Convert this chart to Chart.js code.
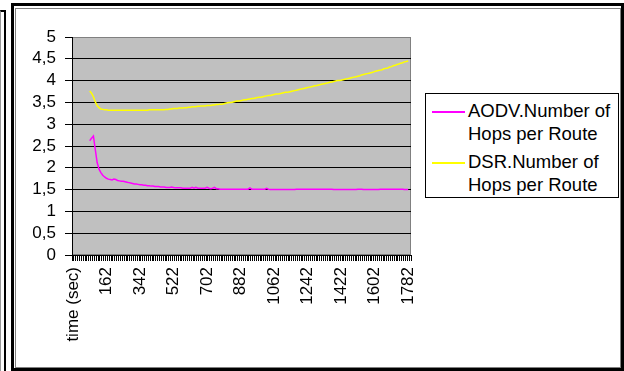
<!DOCTYPE html>
<html>
<head>
<meta charset="utf-8">
<script src="https://cdn.jsdelivr.net/npm/chart.js@4/dist/chart.umd.min.js"></script>
<style>
  html, body { margin: 0; padding: 0; background: #fff; }
  body { width: 624px; height: 371px; position: relative; overflow: hidden;
         font-family: 'Liberation Sans', Arial, sans-serif; }
  .strip { position: absolute; left: 0; top: 10px; width: 3px; height: 361px;
           border-left: 1px solid #999; border-right: 2px solid #000; border-top: 2px solid #000; }
  .frame { position: absolute; left: 11px; top: 3px; width: 613px; height: 368px;
           box-sizing: border-box; border: 3px solid #000; }
  .panel { position: absolute; left: 15px; top: 8px; width: 606px; height: 360px;
           box-sizing: border-box; border: 1px solid #808080; background: #fff; }
  canvas { position: absolute; left: 0; top: 0; }
  #legend { position: absolute; left: 425px; top: 93px; width: 194px; height: 105px;
            box-sizing: border-box; border: 1px solid #000; background: #fff;
            padding-top: 6px; }
  .entry { position: relative; height: 51px; }
  .entry .swatch { position: absolute; left: 6px; top: 11px; width: 33px; height: 2px; }
  .entry .text { position: absolute; left: 42px; top: 0; width: 150px;
                 font-size: 18.5px; line-height: 22.5px; color: #000; }
</style>
</head>
<body>
<div class="strip"></div>
<div class="frame"></div>
<div class="panel"></div>
<canvas id="chart" width="624" height="371"></canvas>
<div id="legend"></div>
<script>
// Category axis: header cell first, then the sampling times in seconds
const times = ['time (sec)', '0'];
for (let t = 2; t <= 1792; t += 10) times.push(String(t));

const tickLabels = ['time (sec)', '162', '342', '522', '702', '882', '1062', '1242', '1422', '1602', '1782'];

const seriesNames = ['AODV.Number of Hops per Route', 'DSR.Number of Hops per Route'];

// AODV average hop count per route (index 0..181)
const aodvHops = [
  null, null, null, null, null, null, null, null, null,
  2.62, 2.68, 2.73, 2.42, 2.12, 1.97, 1.89, 1.83, 1.79, 1.76, 1.74,
  1.73, 1.72, 1.74, 1.73, 1.71, 1.70, 1.69, 1.69, 1.68, 1.67,
  1.66, 1.65, 1.64, 1.63, 1.63, 1.62, 1.61, 1.61, 1.60, 1.60,
  1.59, 1.59, 1.58, 1.58, 1.57, 1.57, 1.57, 1.56, 1.56, 1.56,
  1.55, 1.55, 1.55, 1.56, 1.55, 1.54, 1.54, 1.54, 1.54, 1.53,
  1.53, 1.53, 1.53, 1.53, 1.55, 1.53, 1.55, 1.53, 1.53, 1.53,
  1.53, 1.53, 1.55, 1.53, 1.52, 1.53, 1.55, 1.52, 1.52, 1.51,
  1.51, 1.51, 1.51, 1.51, 1.51, 1.51, 1.51, 1.51, 1.51, 1.51,
  1.51, 1.51, 1.51, 1.51, 1.51, 1.54, 1.51, 1.51, 1.51, 1.51,
  1.51, 1.51, 1.51, 1.51, 1.53, 1.51, 1.50, 1.50, 1.50, 1.50,
  1.50, 1.50, 1.50, 1.50, 1.50, 1.50, 1.50, 1.50, 1.50, 1.50,
  1.51, 1.51, 1.51, 1.51, 1.51, 1.51, 1.51, 1.51, 1.51, 1.51,
  1.51, 1.51, 1.51, 1.51, 1.51, 1.51, 1.51, 1.51, 1.51, 1.51,
  1.50, 1.50, 1.50, 1.50, 1.50, 1.50, 1.50, 1.50, 1.50, 1.50,
  1.50, 1.50, 1.50, 1.51, 1.51, 1.51, 1.50, 1.50, 1.50, 1.50,
  1.50, 1.50, 1.50, 1.50, 1.50, 1.51, 1.51, 1.51, 1.51, 1.51,
  1.51, 1.51, 1.51, 1.51, 1.51, 1.51, 1.51, 1.51, 1.50, 1.50,
  1.50, null
];

// DSR average hop count per route (index 0..181)
const dsrHops = [
  null, null, null, null, null, null, null, null, null,
  3.76, 3.71, 3.63, 3.51, 3.43, 3.38, 3.35, 3.34, 3.33, 3.33, 3.32,
  3.32, 3.32, 3.32, 3.32, 3.32, 3.32, 3.32, 3.32, 3.32, 3.32,
  3.32, 3.32, 3.32, 3.32, 3.32, 3.32, 3.32, 3.32, 3.32, 3.32,
  3.32, 3.33, 3.33, 3.33, 3.33, 3.33, 3.33, 3.33, 3.33, 3.33,
  3.34, 3.34, 3.35, 3.35, 3.36, 3.36, 3.36, 3.37, 3.37, 3.37,
  3.38, 3.38, 3.39, 3.39, 3.40, 3.40, 3.40, 3.41, 3.41, 3.42,
  3.42, 3.42, 3.43, 3.43, 3.43, 3.44, 3.44, 3.45, 3.45, 3.46,
  3.46, 3.47, 3.48, 3.49, 3.50, 3.50, 3.51, 3.52, 3.53, 3.53,
  3.54, 3.55, 3.56, 3.56, 3.57, 3.58, 3.59, 3.59, 3.60, 3.61,
  3.62, 3.62, 3.63, 3.64, 3.65, 3.66, 3.66, 3.67, 3.68, 3.69,
  3.69, 3.70, 3.71, 3.72, 3.73, 3.73, 3.74, 3.75, 3.76, 3.77,
  3.78, 3.79, 3.80, 3.81, 3.82, 3.83, 3.84, 3.85, 3.86, 3.87,
  3.88, 3.89, 3.90, 3.91, 3.92, 3.93, 3.94, 3.95, 3.96, 3.97,
  3.98, 3.99, 4.00, 4.00, 4.01, 4.02, 4.03, 4.04, 4.05, 4.06,
  4.07, 4.08, 4.09, 4.10, 4.11, 4.13, 4.14, 4.15, 4.16, 4.17,
  4.18, 4.19, 4.21, 4.22, 4.23, 4.24, 4.25, 4.27, 4.28, 4.29,
  4.31, 4.32, 4.34, 4.35, 4.37, 4.38, 4.40, 4.41, 4.43, 4.44,
  4.45, null
];

const seriesColors = ['#ff00ff', '#ffff00'];

const FONT = "'Liberation Sans', Arial, sans-serif";
Chart.defaults.font.family = FONT;
Chart.defaults.color = '#000';

// Grey plot area with a thin grey frame, painted before the grid
const plotBackground = {
  id: 'plotBackground',
  beforeDraw(chart) {
    const { ctx, chartArea: a } = chart;
    ctx.save();
    ctx.fillStyle = '#c0c0c0';
    ctx.fillRect(a.left, a.top, a.right - a.left, a.bottom - a.top);
    ctx.strokeStyle = '#808080';
    ctx.lineWidth = 1;
    ctx.strokeRect(a.left + 0.5, a.top + 0.5, a.right - a.left - 1, a.bottom - a.top - 1);
    ctx.restore();
  }
};

const chart = new Chart(document.getElementById('chart'), {
  type: 'line',
  data: {
    labels: times,
    datasets: [
      { label: seriesNames[0], data: aodvHops, borderColor: seriesColors[0],
        backgroundColor: seriesColors[0], borderWidth: 1.5, pointRadius: 0, tension: 0 },
      { label: seriesNames[1], data: dsrHops, borderColor: seriesColors[1],
        backgroundColor: seriesColors[1], borderWidth: 1.5, pointRadius: 0, tension: 0 }
    ]
  },
  options: {
    responsive: false,
    animation: false,
    devicePixelRatio: 1,
    layout: { padding: { left: 0, top: 37, right: 213, bottom: 0 } },
    plugins: { legend: { display: false }, tooltip: { enabled: false } },
    scales: {
      x: {
        type: 'category',
        offset: true,
        grid: { offset: true, drawOnChartArea: false, drawTicks: true,
                tickLength: 6, color: '#000', tickColor: '#000' },
        border: { display: true, color: '#000', width: 1 },
        ticks: {
          autoSkip: false, minRotation: 90, maxRotation: 90, padding: 6,
          font: { size: 17 }, color: '#000',
          callback(value, index) {
            const lbl = times[index];
            return tickLabels.includes(lbl) && index % 18 === 0 ? lbl : '';
          }
        },
        afterFit(scale) { scale.height = 116; }
      },
      y: {
        min: 0, max: 5,
        grid: {
          color: (c) => (c.tick && c.tick.value === 5 ? '#808080' : '#000'),
          tickColor: '#000', tickLength: 7, lineWidth: 1
        },
        border: { display: true, color: '#000', width: 1 },
        ticks: {
          stepSize: 0.5, autoSkip: false, padding: 9, font: { size: 17 }, color: '#000',
          callback: (v) => String(v).replace('.', ',')
        },
        afterFit(scale) { scale.width = 72; }
      }
    }
  },
  plugins: [plotBackground]
});

// Boxed legend built from the chart's datasets
const legend = document.getElementById('legend');
chart.data.datasets.forEach((ds) => {
  const entry = document.createElement('div');
  entry.className = 'entry';
  const sw = document.createElement('div');
  sw.className = 'swatch';
  sw.style.background = ds.borderColor;
  const tx = document.createElement('div');
  tx.className = 'text';
  tx.textContent = ds.label;
  entry.appendChild(sw);
  entry.appendChild(tx);
  legend.appendChild(entry);
});
</script>
</body>
</html>
